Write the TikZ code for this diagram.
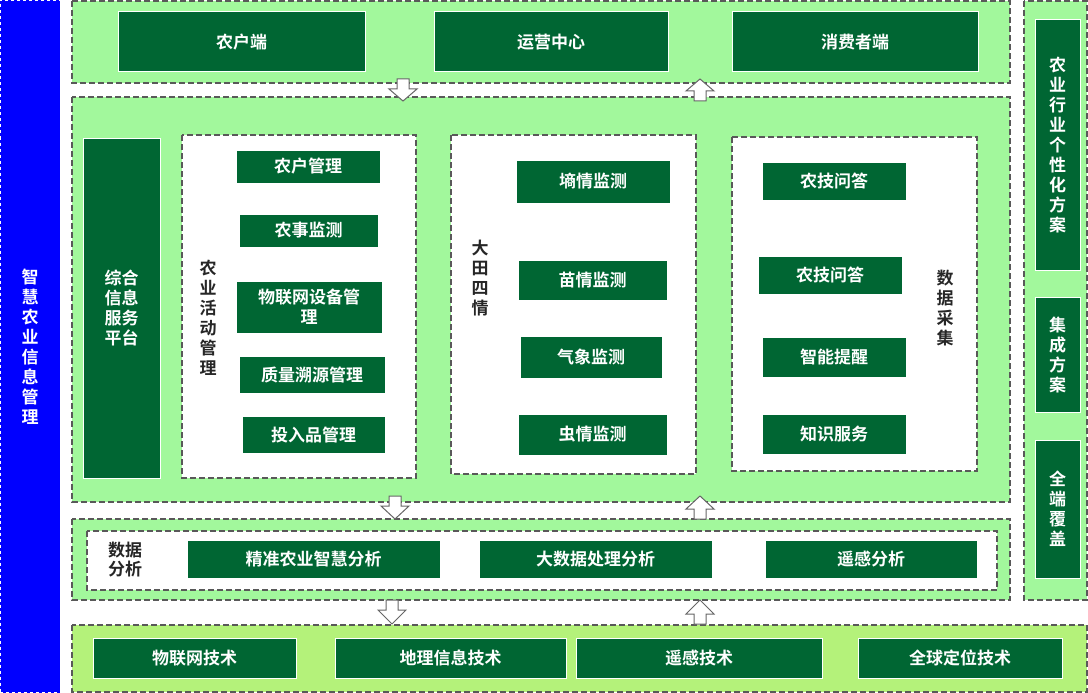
\documentclass[tikz,border=0pt]{standalone}
\usepackage{fontspec}
\setmainfont{Noto Sans CJK SC}[BoldFont={* Bold}]
\newfontfamily\cjkb{Noto Sans CJK SC Bold}
\begin{document}
\begin{tikzpicture}[x=1pt,y=-1pt,
 panel/.style={draw=black!65,dashed,line width=1.3pt,dash pattern=on 6pt off 3pt,fill=#1},
 inner/.style={draw=black!65,line width=1.3pt,dash pattern=on 6pt off 3pt,fill=white},
 gbox/.style={draw=white,line width=1pt,fill=green!40!black!90!teal,fill=dkg,text=white,font=\cjkb\fontsize{17}{20}\selectfont,align=center,inner sep=0pt},
 lbl/.style={font=\cjkb\fontsize{17}{20}\selectfont,text=black!85,align=center},
 blk/.style={draw=black!60,fill=white,line width=1pt}]
\definecolor{dkg}{HTML}{006633}
\definecolor{lg}{HTML}{A2F89C}
\definecolor{yg}{HTML}{B4F27A}
\useasboundingbox (0,0) rectangle (1088,693);
\newcommand{\gb}[6]{\node[gbox,minimum width=#3-#1,minimum height=#4-#2] (#5) at ({(#1+#3)/2},{(#2+#4)/2}) {#6};}
\newcommand{\dn}[3]{\draw[blk] (#1-6,#2) -- (#1+6,#2) -- (#1+6,#2+10) -- (#1+14,#2+10) -- (#1,#3) -- (#1-14,#2+10) -- (#1-6,#2+10) -- cycle;}
\newcommand{\up}[3]{\draw[blk] (#1-6,#3) -- (#1+6,#3) -- (#1+6,#3-10) -- (#1+14,#3-10) -- (#1,#2) -- (#1-14,#3-10) -- (#1-6,#3-10) -- cycle;}
% left blue bar
\node[draw=white,dashed,fill=blue,minimum width=60,minimum height=692,inner sep=0pt,text=white,font=\cjkb\fontsize{17}{20}\selectfont,align=center] (blue) at (30,346.5) {智\\慧\\农\\业\\信\\息\\管\\理};
% top panel
\draw[panel=lg] (72,1) rectangle (1010,83);
\gb{118}{12}{365}{72}{a1}{农户端}
\gb{434}{12}{668}{72}{a2}{运营中心}
\gb{732}{12}{978}{72}{a3}{消费者端}
% middle panel
\draw[panel=lg] (72,97) rectangle (1010,502);
\gb{83}{138}{160}{478}{zh}{综合\\信息\\服务\\平台}
\draw[inner] (182,135) rectangle (416,478);
\node[lbl] (l1) at (208,318) {农\\业\\活\\动\\管\\理};
\gb{236}{150}{380}{183}{b1}{农户管理}
\gb{239}{214}{378}{247}{b2}{农事监测}
\gb{236}{281}{382}{333}{b3}{物联网设备管\\理}
\gb{239}{356}{385}{393}{b4}{质量溯源管理}
\gb{242}{416}{385}{453}{b5}{投入品管理}
\draw[inner] (451,135) rectangle (696,474);
\node[lbl] (l2) at (480,278) {大\\田\\四\\情};
\gb{516}{160}{670}{203}{c1}{墒情监测}
\gb{518}{260}{667}{300}{c2}{苗情监测}
\gb{520}{336}{662}{378}{c3}{气象监测}
\gb{518}{414}{667}{455}{c4}{虫情监测}
\draw[inner] (732,137) rectangle (977,471);
\node[lbl] (l3) at (945,308) {数\\据\\采\\集};
\gb{762}{162}{906}{200}{d1}{农技问答}
\gb{758}{256}{902}{294}{d2}{农技问答}
\gb{762}{337}{906}{377}{d3}{智能提醒}
\gb{762}{414}{906}{454}{d4}{知识服务}
% analysis panel
\draw[panel=lg] (72,519) rectangle (1010,600);
\draw[inner] (87,531) rectangle (997,590);
\node[lbl,font=\cjkb\fontsize{17}{19}\selectfont] (l4) at (125,560) {数据\\分析};
\gb{187}{540}{440}{578}{e1}{精准农业智慧分析}
\gb{479}{540}{712}{578}{e2}{大数据处理分析}
\gb{765}{540}{977}{578}{e3}{遥感分析}
% bottom panel
\draw[panel=yg] (72,625) rectangle (1087,692);
\gb{93}{638}{296}{678}{f1}{物联网技术}
\gb{335}{638}{566}{678}{f2}{地理信息技术}
\gb{576}{638}{822}{678}{f3}{遥感技术}
\gb{858}{638}{1062}{678}{f4}{全球定位技术}
% right panel
\draw[panel=lg] (1024,1) rectangle (1087,600);
\gb{1035}{20}{1080}{270}{r1}{农\\业\\行\\业\\个\\性\\化\\方\\案}
\gb{1035}{297}{1080}{412}{r2}{集\\成\\方\\案}
\gb{1035}{440}{1080}{578}{r3}{全\\端\\覆\\盖}
% arrows
\dn{403}{79}{101}
\up{700}{79}{101}
\dn{395}{496}{519}
\up{700}{496}{519}
\dn{392}{600}{624}
\up{700}{600}{624}
\end{tikzpicture}
\end{document}
